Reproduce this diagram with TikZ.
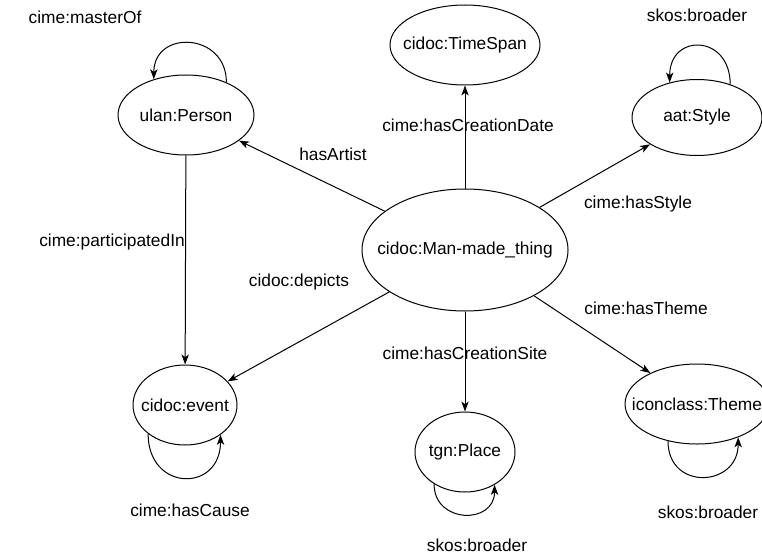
\documentclass[tikz,border=0pt]{standalone}
\usepackage{fontspec}
\setmainfont{Liberation Sans}
\usetikzlibrary{arrows.meta,shapes.geometric}
\begin{document}
\begin{tikzpicture}[x=0.75pt,y=-0.75pt,
  font=\fontsize{13pt}{15.5pt}\selectfont,
  nd/.style={draw=black, line width=0.75pt, ellipse, inner sep=0pt},
  lbl/.style={inner sep=0pt, anchor=center},
  edge/.style={draw=black, line width=0.75pt, -{Stealth[length=7.5pt,width=5.5pt,inset=2pt]}},
]
\useasboundingbox (0,0) rectangle (762,556);
% nodes
\node[nd, minimum width=154.5pt, minimum height=91.5pt, label=center:{cidoc:Man-made\_thing}] (mmt) at (465,250) {};
\node[nd, minimum width=112.5pt, minimum height=60pt, label=center:{cidoc:TimeSpan}] (ts) at (465,45) {};
\node[nd, minimum width=102pt, minimum height=60pt, label=center:{ulan:Person}] (ulan) at (186,115) {};
\node[nd, minimum width=97.5pt, minimum height=57pt, label=center:{aat:Style}] (aat) at (697,117.5) {};
\node[nd, minimum width=78pt, minimum height=60pt, label=center:{cidoc:event}] (event) at (185,405) {};
\node[nd, minimum width=75pt, minimum height=60pt, label=center:{tgn:Place}] (place) at (465,452) {};
\node[nd, minimum width=108pt, minimum height=60pt, label=center:{iconclass:Theme}] (icon) at (697,404) {};
% edges
\draw[edge] (mmt) -- (ts);
\draw[edge] (mmt) -- (ulan);
\draw[edge] (mmt) -- (aat);
\draw[edge] (mmt) -- (event);
\draw[edge] (mmt) -- (place);
\draw[edge] (mmt) -- (icon);
\draw[edge] (ulan) -- (event);
% self loops
\draw[edge] (ulan.39) .. controls +(0,-50) and +(0,-50) .. (ulan.132);
\draw[edge] (aat.45) .. controls +(0,-50) and +(0,-50) .. (aat.128);
\draw[edge] (event.-142) .. controls +(0,58) and +(0,58) .. (event.-40);
\draw[edge] (place.-134) .. controls +(0,40) and +(0,40) .. (place.-48);
\draw[edge] (icon.-128) .. controls +(0,50) and +(0,50) .. (icon.-39);
% labels
\node[lbl] (lmaster) at (85,17) {cime:masterOf};
\node[lbl] (laatb) at (697,15) {skos:broader};
\node[lbl] (ldate) at (468,125) {cime:hasCreationDate};
\node[lbl] (lartist) at (333,154) {hasArtist};
\node[lbl] (lstyle) at (638,204) {cime:hasStyle};
\node[lbl] (lpart) at (112,242) {cime:participatedIn};
\node[lbl] (ldepicts) at (299,282) {cidoc:depicts};
\node[lbl] (ltheme) at (646,308) {cime:hasTheme};
\node[lbl] (lsite) at (465,353) {cime:hasCreationSite};
\node[lbl] (lcause) at (190,510) {cime:hasCause};
\node[lbl] (licb) at (708,512) {skos:broader};
\node[lbl] (lplb) at (477,545) {skos:broader};
\end{tikzpicture}
\end{document}
